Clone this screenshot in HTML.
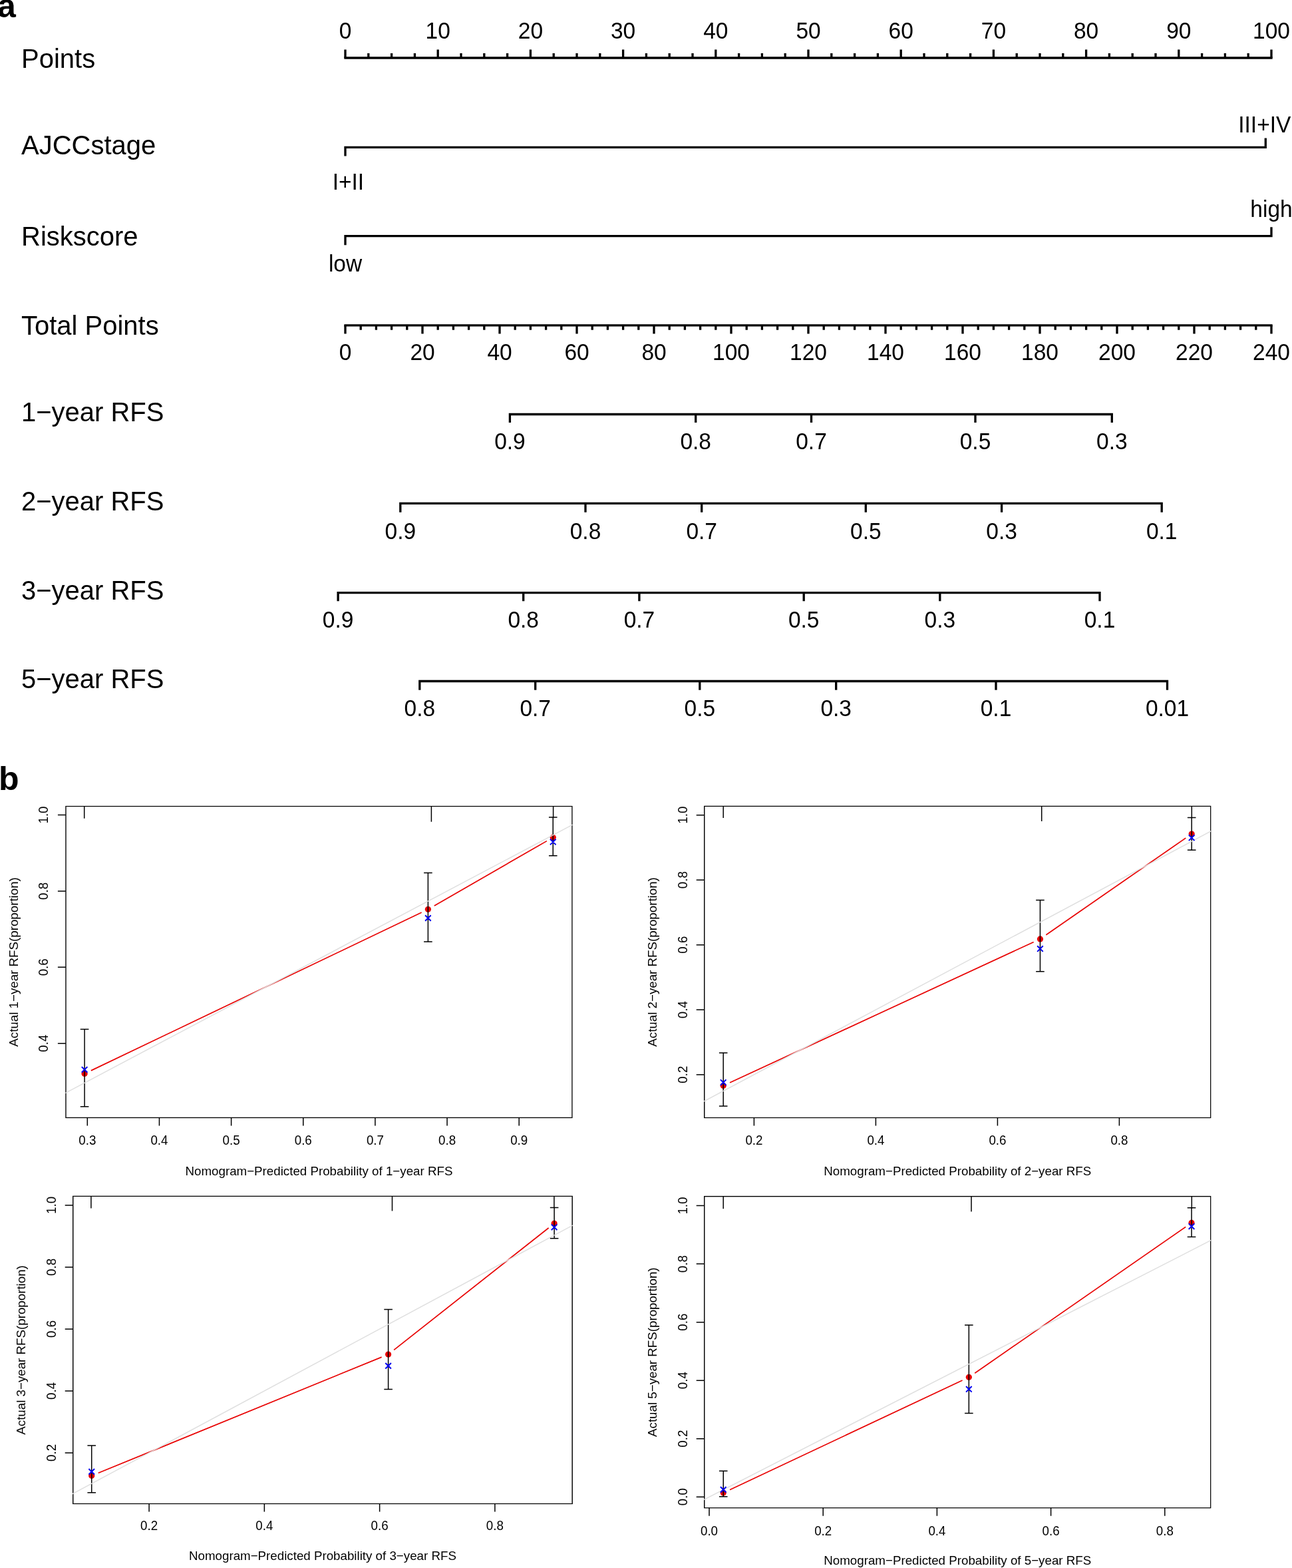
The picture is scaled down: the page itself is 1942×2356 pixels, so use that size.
<!DOCTYPE html>
<html><head><meta charset="utf-8"><title>Nomogram and calibration curves</title>
<style>
html,body{margin:0;padding:0;background:#fff;}
body{width:1942px;height:2356px;overflow:hidden;}
svg{display:block;font-family:'Liberation Sans', Arial, Helvetica, sans-serif;fill:#000;}
</style></head><body>
<svg width="1942" height="2356" viewBox="0 0 1942 2356">
<rect width="1942" height="2356" fill="#fff"/>
<text font-size="40" text-anchor="start" transform="translate(32 102.3) scale(1 1.02)">Points</text>
<path d="M519 87.0H1911" stroke="#000" stroke-width="3.3" fill="none" stroke-linecap="square"/>
<path d="M519 87V74.6M553.8 87V80.1M588.6 87V80.1M623.4 87V80.1M658.2 87V74.6M693 87V80.1M727.8 87V80.1M762.6 87V80.1M797.4 87V74.6M832.2 87V80.1M867 87V80.1M901.8 87V80.1M936.6 87V74.6M971.4 87V80.1M1006.2 87V80.1M1041 87V80.1M1075.8 87V74.6M1110.6 87V80.1M1145.4 87V80.1M1180.2 87V80.1M1215 87V74.6M1249.8 87V80.1M1284.6 87V80.1M1319.4 87V80.1M1354.2 87V74.6M1389 87V80.1M1423.8 87V80.1M1458.6 87V80.1M1493.4 87V74.6M1528.2 87V80.1M1563 87V80.1M1597.8 87V80.1M1632.6 87V74.6M1667.4 87V80.1M1702.2 87V80.1M1737 87V80.1M1771.8 87V74.6M1806.6 87V80.1M1841.4 87V80.1M1876.2 87V80.1M1911 87V74.6" stroke="#000" stroke-width="3.3" fill="none"/>
<text font-size="33.5" text-anchor="middle" transform="translate(519 58.4) scale(1 1.04)">0</text>
<text font-size="33.5" text-anchor="middle" transform="translate(658.2 58.4) scale(1 1.04)">10</text>
<text font-size="33.5" text-anchor="middle" transform="translate(797.4 58.4) scale(1 1.04)">20</text>
<text font-size="33.5" text-anchor="middle" transform="translate(936.6 58.4) scale(1 1.04)">30</text>
<text font-size="33.5" text-anchor="middle" transform="translate(1075.8 58.4) scale(1 1.04)">40</text>
<text font-size="33.5" text-anchor="middle" transform="translate(1215 58.4) scale(1 1.04)">50</text>
<text font-size="33.5" text-anchor="middle" transform="translate(1354.2 58.4) scale(1 1.04)">60</text>
<text font-size="33.5" text-anchor="middle" transform="translate(1493.4 58.4) scale(1 1.04)">70</text>
<text font-size="33.5" text-anchor="middle" transform="translate(1632.6 58.4) scale(1 1.04)">80</text>
<text font-size="33.5" text-anchor="middle" transform="translate(1771.8 58.4) scale(1 1.04)">90</text>
<text font-size="33.5" text-anchor="middle" transform="translate(1911 58.4) scale(1 1.04)">100</text>
<text font-size="40" text-anchor="start" transform="translate(32 231.8) scale(1 1.02)">AJCCstage</text>
<path d="M519 234.5V221.4H1902.3V207.5" stroke="#000" stroke-width="3.3" fill="none" stroke-linejoin="miter"/>
<text font-size="33.5" text-anchor="middle" transform="translate(523.4 284.8) scale(1 1.02)">I+II</text>
<text font-size="33.5" text-anchor="middle" transform="translate(1900.8 199.3) scale(1 1.02)">III+IV</text>
<text font-size="40" text-anchor="start" transform="translate(32 369) scale(1 1.02)">Riskscore</text>
<path d="M519 368.2V354.7H1911V341.2" stroke="#000" stroke-width="3.3" fill="none"/>
<text font-size="33.5" text-anchor="middle" transform="translate(519 408) scale(1 1.02)">low</text>
<text font-size="33.5" text-anchor="middle" transform="translate(1911 325.6) scale(1 1.02)">high</text>
<text font-size="40" text-anchor="start" transform="translate(32 503.3) scale(1 1.02)">Total Points</text>
<path d="M519 488.8H1911" stroke="#000" stroke-width="3.3" fill="none" stroke-linecap="square"/>
<path d="M519 488.8V501.6M542.2 488.8V495.8M565.4 488.8V495.8M588.6 488.8V495.8M611.8 488.8V495.8M635 488.8V501.6M658.2 488.8V495.8M681.4 488.8V495.8M704.6 488.8V495.8M727.8 488.8V495.8M751 488.8V501.6M774.2 488.8V495.8M797.4 488.8V495.8M820.6 488.8V495.8M843.8 488.8V495.8M867 488.8V501.6M890.2 488.8V495.8M913.4 488.8V495.8M936.6 488.8V495.8M959.8 488.8V495.8M983 488.8V501.6M1006.2 488.8V495.8M1029.4 488.8V495.8M1052.6 488.8V495.8M1075.8 488.8V495.8M1099 488.8V501.6M1122.2 488.8V495.8M1145.4 488.8V495.8M1168.6 488.8V495.8M1191.8 488.8V495.8M1215 488.8V501.6M1238.2 488.8V495.8M1261.4 488.8V495.8M1284.6 488.8V495.8M1307.8 488.8V495.8M1331 488.8V501.6M1354.2 488.8V495.8M1377.4 488.8V495.8M1400.6 488.8V495.8M1423.8 488.8V495.8M1447 488.8V501.6M1470.2 488.8V495.8M1493.4 488.8V495.8M1516.6 488.8V495.8M1539.8 488.8V495.8M1563 488.8V501.6M1586.2 488.8V495.8M1609.4 488.8V495.8M1632.6 488.8V495.8M1655.8 488.8V495.8M1679 488.8V501.6M1702.2 488.8V495.8M1725.4 488.8V495.8M1748.6 488.8V495.8M1771.8 488.8V495.8M1795 488.8V501.6M1818.2 488.8V495.8M1841.4 488.8V495.8M1864.6 488.8V495.8M1887.8 488.8V495.8M1911 488.8V501.6" stroke="#000" stroke-width="3.3" fill="none"/>
<text font-size="33.5" text-anchor="middle" transform="translate(519 541) scale(1 1.04)">0</text>
<text font-size="33.5" text-anchor="middle" transform="translate(635 541) scale(1 1.04)">20</text>
<text font-size="33.5" text-anchor="middle" transform="translate(751 541) scale(1 1.04)">40</text>
<text font-size="33.5" text-anchor="middle" transform="translate(867 541) scale(1 1.04)">60</text>
<text font-size="33.5" text-anchor="middle" transform="translate(983 541) scale(1 1.04)">80</text>
<text font-size="33.5" text-anchor="middle" transform="translate(1099 541) scale(1 1.04)">100</text>
<text font-size="33.5" text-anchor="middle" transform="translate(1215 541) scale(1 1.04)">120</text>
<text font-size="33.5" text-anchor="middle" transform="translate(1331 541) scale(1 1.04)">140</text>
<text font-size="33.5" text-anchor="middle" transform="translate(1447 541) scale(1 1.04)">160</text>
<text font-size="33.5" text-anchor="middle" transform="translate(1563 541) scale(1 1.04)">180</text>
<text font-size="33.5" text-anchor="middle" transform="translate(1679 541) scale(1 1.04)">200</text>
<text font-size="33.5" text-anchor="middle" transform="translate(1795 541) scale(1 1.04)">220</text>
<text font-size="33.5" text-anchor="middle" transform="translate(1911 541) scale(1 1.04)">240</text>
<text font-size="40" text-anchor="start" transform="translate(32 632.9) scale(1 1.02)">1−year RFS</text>
<path d="M766.4 635V622.5H1671.3V635M1045.7 622.5V635M1219.5 622.5V635M1466 622.5V635" stroke="#000" stroke-width="3.3" fill="none"/>
<text font-size="33.5" text-anchor="middle" transform="translate(766.4 674.7) scale(1 1.04)">0.9</text>
<text font-size="33.5" text-anchor="middle" transform="translate(1045.7 674.7) scale(1 1.04)">0.8</text>
<text font-size="33.5" text-anchor="middle" transform="translate(1219.5 674.7) scale(1 1.04)">0.7</text>
<text font-size="33.5" text-anchor="middle" transform="translate(1466 674.7) scale(1 1.04)">0.5</text>
<text font-size="33.5" text-anchor="middle" transform="translate(1671.3 674.7) scale(1 1.04)">0.3</text>
<text font-size="40" text-anchor="start" transform="translate(32 766.7) scale(1 1.02)">2−year RFS</text>
<path d="M601.8 769.8V756.3H1746.2V769.8M880 756.3V769.8M1054.7 756.3V769.8M1301.3 756.3V769.8M1505.6 756.3V769.8" stroke="#000" stroke-width="3.3" fill="none"/>
<text font-size="33.5" text-anchor="middle" transform="translate(601.8 809.5) scale(1 1.04)">0.9</text>
<text font-size="33.5" text-anchor="middle" transform="translate(880 809.5) scale(1 1.04)">0.8</text>
<text font-size="33.5" text-anchor="middle" transform="translate(1054.7 809.5) scale(1 1.04)">0.7</text>
<text font-size="33.5" text-anchor="middle" transform="translate(1301.3 809.5) scale(1 1.04)">0.5</text>
<text font-size="33.5" text-anchor="middle" transform="translate(1505.6 809.5) scale(1 1.04)">0.3</text>
<text font-size="33.5" text-anchor="middle" transform="translate(1746.2 809.5) scale(1 1.04)">0.1</text>
<text font-size="40" text-anchor="start" transform="translate(32 901) scale(1 1.02)">3−year RFS</text>
<path d="M508.1 903.2V890.7H1653V903.2M786.7 890.7V903.2M960.9 890.7V903.2M1208.2 890.7V903.2M1412.8 890.7V903.2" stroke="#000" stroke-width="3.3" fill="none"/>
<text font-size="33.5" text-anchor="middle" transform="translate(508.1 943) scale(1 1.04)">0.9</text>
<text font-size="33.5" text-anchor="middle" transform="translate(786.7 943) scale(1 1.04)">0.8</text>
<text font-size="33.5" text-anchor="middle" transform="translate(960.9 943) scale(1 1.04)">0.7</text>
<text font-size="33.5" text-anchor="middle" transform="translate(1208.2 943) scale(1 1.04)">0.5</text>
<text font-size="33.5" text-anchor="middle" transform="translate(1412.8 943) scale(1 1.04)">0.3</text>
<text font-size="33.5" text-anchor="middle" transform="translate(1653 943) scale(1 1.04)">0.1</text>
<text font-size="40" text-anchor="start" transform="translate(32 1034) scale(1 1.02)">5−year RFS</text>
<path d="M630.8 1036.7V1023.5H1754.5V1036.7M804.7 1023.5V1036.7M1051.8 1023.5V1036.7M1256.7 1023.5V1036.7M1497 1023.5V1036.7" stroke="#000" stroke-width="3.3" fill="none"/>
<text font-size="33.5" text-anchor="middle" transform="translate(630.8 1075.7) scale(1 1.04)">0.8</text>
<text font-size="33.5" text-anchor="middle" transform="translate(804.7 1075.7) scale(1 1.04)">0.7</text>
<text font-size="33.5" text-anchor="middle" transform="translate(1051.8 1075.7) scale(1 1.04)">0.5</text>
<text font-size="33.5" text-anchor="middle" transform="translate(1256.7 1075.7) scale(1 1.04)">0.3</text>
<text font-size="33.5" text-anchor="middle" transform="translate(1497 1075.7) scale(1 1.04)">0.1</text>
<text font-size="33.5" text-anchor="middle" transform="translate(1754.5 1075.7) scale(1 1.04)">0.01</text>
<text x="-4" y="26.3" font-size="50" font-weight="bold">a</text>
<text x="-2" y="1187" font-size="50" font-weight="bold">b</text>
<clipPath id="c1"><rect x="98.15" y="1210.65" width="762.6" height="469.6"/></clipPath>
<g clip-path="url(#c1)">
<path d="M136.83 1608.63L633.65 1371.02M652.75 1360.97L821.89 1263.63" stroke="#e80000" stroke-width="1.7" fill="none"/>
<circle cx="127.08" cy="1613.29" r="4.6" fill="#e80000"/>
<circle cx="643.39" cy="1366.36" r="4.6" fill="#e80000"/>
<circle cx="831.25" cy="1258.25" r="4.6" fill="#e80000"/>
<path d="M127.08 1662.65V1546.54M120.78 1662.65H133.38M120.78 1546.54H133.38M643.39 1414.98V1311.44M637.09 1414.98H649.69M637.09 1311.44H649.69M831.25 1285.7V1227.93M824.95 1285.7H837.55M824.95 1227.93H837.55M126.7 1211.4V1229.8M648.4 1211.4V1234.7M831.6 1211.4V1229" stroke="#000" stroke-width="1.5" fill="none"/>
<rect x="98.9" y="1211.4" width="761.1" height="468.1" fill="none" stroke="#000" stroke-width="1.5"/>
<line x1="98.15" y1="1642.43" x2="860.75" y2="1239.1" stroke="#dedede" stroke-width="1.45"/>
<path d="M122.78 1602.87L131.38 1611.47M122.78 1611.47L131.38 1602.87M639.09 1375.21L647.69 1383.81M639.09 1383.81L647.69 1375.21M826.95 1260.81L835.55 1269.41M826.95 1269.41L835.55 1260.81" stroke="#0000f0" stroke-width="2" fill="none"/>
</g>
<path d="M131.3 1679.5V1691.5M239.45 1679.5V1691.5M347.6 1679.5V1691.5M455.75 1679.5V1691.5M563.9 1679.5V1691.5M672.05 1679.5V1691.5M780.2 1679.5V1691.5M98.9 1567.7H86.9M98.9 1453.3H86.9M98.9 1338.9H86.9M98.9 1224.5H86.9" stroke="#000" stroke-width="1.5" fill="none"/>
<text font-size="18.75" text-anchor="middle" transform="translate(131.3 1720.2) scale(1 1.04)">0.3</text>
<text font-size="18.75" text-anchor="middle" transform="translate(239.45 1720.2) scale(1 1.04)">0.4</text>
<text font-size="18.75" text-anchor="middle" transform="translate(347.6 1720.2) scale(1 1.04)">0.5</text>
<text font-size="18.75" text-anchor="middle" transform="translate(455.75 1720.2) scale(1 1.04)">0.6</text>
<text font-size="18.75" text-anchor="middle" transform="translate(563.9 1720.2) scale(1 1.04)">0.7</text>
<text font-size="18.75" text-anchor="middle" transform="translate(672.05 1720.2) scale(1 1.04)">0.8</text>
<text font-size="18.75" text-anchor="middle" transform="translate(780.2 1720.2) scale(1 1.04)">0.9</text>
<text x="0" y="0" font-size="18.75" text-anchor="middle" transform="translate(72.2 1567.7) rotate(-90) scale(1 1.04)">0.4</text>
<text x="0" y="0" font-size="18.75" text-anchor="middle" transform="translate(72.2 1453.3) rotate(-90) scale(1 1.04)">0.6</text>
<text x="0" y="0" font-size="18.75" text-anchor="middle" transform="translate(72.2 1338.9) rotate(-90) scale(1 1.04)">0.8</text>
<text x="0" y="0" font-size="18.75" text-anchor="middle" transform="translate(72.2 1224.5) rotate(-90) scale(1 1.04)">1.0</text>
<text font-size="18.75" text-anchor="middle" transform="translate(479.45 1766) scale(1 1.02)">Nomogram−Predicted Probability of 1−year RFS</text>
<text x="0" y="0" font-size="18.75" text-anchor="middle" transform="translate(27.4 1445.45) rotate(-90) scale(1 1.02)">Actual 1−year RFS(proportion)</text>
<clipPath id="c2"><rect x="1057.95" y="1210.55" width="762.6" height="469.8"/></clipPath>
<g clip-path="url(#c2)">
<path d="M1096.99 1626.74L1553.65 1415.46M1572.32 1404.77L1782.32 1259.13" stroke="#e80000" stroke-width="1.7" fill="none"/>
<circle cx="1087.19" cy="1631.28" r="4.6" fill="#e80000"/>
<circle cx="1563.45" cy="1410.92" r="4.6" fill="#e80000"/>
<circle cx="1791.19" cy="1252.98" r="4.6" fill="#e80000"/>
<path d="M1087.19 1661.99V1582.04M1080.89 1661.99H1093.49M1080.89 1582.04H1093.49M1563.45 1459.67V1352.42M1557.15 1459.67H1569.75M1557.15 1352.42H1569.75M1791.19 1277.35V1228.6M1784.89 1277.35H1797.49M1784.89 1228.6H1797.49M1087.2 1211.3V1228.9M1565.7 1211.3V1234M1791.3 1211.3V1229" stroke="#000" stroke-width="1.5" fill="none"/>
<rect x="1058.7" y="1211.3" width="761.1" height="468.3" fill="none" stroke="#000" stroke-width="1.5"/>
<line x1="1057.95" y1="1654.9" x2="1820.55" y2="1248.6" stroke="#dedede" stroke-width="1.45"/>
<path d="M1082.89 1622.1L1091.49 1630.7M1082.89 1630.7L1091.49 1622.1M1559.15 1421.25L1567.75 1429.85M1559.15 1429.85L1567.75 1421.25M1786.89 1254.53L1795.49 1263.12M1786.89 1263.12L1795.49 1254.53" stroke="#0000f0" stroke-width="2" fill="none"/>
</g>
<path d="M1133.4 1679.6V1691.6M1316.4 1679.6V1691.6M1499.4 1679.6V1691.6M1682.4 1679.6V1691.6M1058.7 1614.7H1046.7M1058.7 1517.2H1046.7M1058.7 1419.7H1046.7M1058.7 1322.2H1046.7M1058.7 1224.7H1046.7" stroke="#000" stroke-width="1.5" fill="none"/>
<text font-size="18.75" text-anchor="middle" transform="translate(1133.4 1720.4) scale(1 1.04)">0.2</text>
<text font-size="18.75" text-anchor="middle" transform="translate(1316.4 1720.4) scale(1 1.04)">0.4</text>
<text font-size="18.75" text-anchor="middle" transform="translate(1499.4 1720.4) scale(1 1.04)">0.6</text>
<text font-size="18.75" text-anchor="middle" transform="translate(1682.4 1720.4) scale(1 1.04)">0.8</text>
<text x="0" y="0" font-size="18.75" text-anchor="middle" transform="translate(1033 1614.7) rotate(-90) scale(1 1.04)">0.2</text>
<text x="0" y="0" font-size="18.75" text-anchor="middle" transform="translate(1033 1517.2) rotate(-90) scale(1 1.04)">0.4</text>
<text x="0" y="0" font-size="18.75" text-anchor="middle" transform="translate(1033 1419.7) rotate(-90) scale(1 1.04)">0.6</text>
<text x="0" y="0" font-size="18.75" text-anchor="middle" transform="translate(1033 1322.2) rotate(-90) scale(1 1.04)">0.8</text>
<text x="0" y="0" font-size="18.75" text-anchor="middle" transform="translate(1033 1224.7) rotate(-90) scale(1 1.04)">1.0</text>
<text font-size="18.75" text-anchor="middle" transform="translate(1439.25 1765.5) scale(1 1.02)">Nomogram−Predicted Probability of 2−year RFS</text>
<text x="0" y="0" font-size="18.75" text-anchor="middle" transform="translate(987.4 1445.45) rotate(-90) scale(1 1.02)">Actual 2−year RFS(proportion)</text>
<clipPath id="c3"><rect x="108.95" y="1796.55" width="752" height="463.8"/></clipPath>
<g clip-path="url(#c3)">
<path d="M147.73 2213.22L573.62 2039.12M592.1 2028.34L824.63 1845.02" stroke="#e80000" stroke-width="1.7" fill="none"/>
<circle cx="137.73" cy="2217.31" r="4.6" fill="#e80000"/>
<circle cx="583.61" cy="2035.03" r="4.6" fill="#e80000"/>
<circle cx="833.11" cy="1838.34" r="4.6" fill="#e80000"/>
<path d="M137.73 2242.65V2171.97M131.43 2242.65H144.03M131.43 2171.97H144.03M583.61 2087.58V1967.61M577.31 2087.58H589.91M577.31 1967.61H589.91M833.11 1860.66V1814.62M826.81 1860.66H839.41M826.81 1814.62H839.41M136.9 1797.3V1815.5M589.5 1797.3V1819.5M832.9 1797.3V1815" stroke="#000" stroke-width="1.5" fill="none"/>
<rect x="109.7" y="1797.3" width="750.5" height="462.3" fill="none" stroke="#000" stroke-width="1.5"/>
<line x1="108.95" y1="2244.71" x2="860.95" y2="1841.06" stroke="#dedede" stroke-width="1.45"/>
<path d="M133.43 2206.97L142.03 2215.57M133.43 2215.57L142.03 2206.97M579.31 2047.94L587.91 2056.54M579.31 2056.54L587.91 2047.94M828.81 1839.62L837.41 1848.21M828.81 1848.21L837.41 1839.62" stroke="#0000f0" stroke-width="2" fill="none"/>
</g>
<path d="M224.1 2259.6V2271.6M397.36 2259.6V2271.6M570.62 2259.6V2271.6M743.88 2259.6V2271.6M109.7 2182.9H97.7M109.7 2089.9H97.7M109.7 1996.9H97.7M109.7 1903.9H97.7M109.7 1810.9H97.7" stroke="#000" stroke-width="1.5" fill="none"/>
<text font-size="18.75" text-anchor="middle" transform="translate(224.1 2299.4) scale(1 1.04)">0.2</text>
<text font-size="18.75" text-anchor="middle" transform="translate(397.36 2299.4) scale(1 1.04)">0.4</text>
<text font-size="18.75" text-anchor="middle" transform="translate(570.62 2299.4) scale(1 1.04)">0.6</text>
<text font-size="18.75" text-anchor="middle" transform="translate(743.88 2299.4) scale(1 1.04)">0.8</text>
<text x="0" y="0" font-size="18.75" text-anchor="middle" transform="translate(84.3 2182.9) rotate(-90) scale(1 1.04)">0.2</text>
<text x="0" y="0" font-size="18.75" text-anchor="middle" transform="translate(84.3 2089.9) rotate(-90) scale(1 1.04)">0.4</text>
<text x="0" y="0" font-size="18.75" text-anchor="middle" transform="translate(84.3 1996.9) rotate(-90) scale(1 1.04)">0.6</text>
<text x="0" y="0" font-size="18.75" text-anchor="middle" transform="translate(84.3 1903.9) rotate(-90) scale(1 1.04)">0.8</text>
<text x="0" y="0" font-size="18.75" text-anchor="middle" transform="translate(84.3 1810.9) rotate(-90) scale(1 1.04)">1.0</text>
<text font-size="18.75" text-anchor="middle" transform="translate(484.95 2343.7) scale(1 1.02)">Nomogram−Predicted Probability of 3−year RFS</text>
<text x="0" y="0" font-size="18.75" text-anchor="middle" transform="translate(38 2028.45) rotate(-90) scale(1 1.02)">Actual 3−year RFS(proportion)</text>
<clipPath id="c4"><rect x="1057.95" y="1796.85" width="762.6" height="469.7"/></clipPath>
<g clip-path="url(#c4)">
<path d="M1097 2238.47L1446.56 2073.95M1465.21 2063.2L1782.15 1843.57" stroke="#e80000" stroke-width="1.7" fill="none"/>
<circle cx="1087.23" cy="2243.07" r="4.6" fill="#e80000"/>
<circle cx="1456.34" cy="2069.35" r="4.6" fill="#e80000"/>
<circle cx="1791.03" cy="1837.42" r="4.6" fill="#e80000"/>
<path d="M1087.23 2248.76V2210.25M1080.93 2248.76H1093.53M1080.93 2210.25H1093.53M1456.34 2123.61V1991.02M1450.04 2123.61H1462.64M1450.04 1991.02H1462.64M1791.03 1858.42V1814.66M1784.73 1858.42H1797.33M1784.73 1814.66H1797.33M1087.2 1797.6V1816.3M1460 1797.6V1820.4M1791.3 1797.6V1816" stroke="#000" stroke-width="1.5" fill="none"/>
<rect x="1058.7" y="1797.6" width="761.1" height="468.2" fill="none" stroke="#000" stroke-width="1.5"/>
<line x1="1057.95" y1="2253.32" x2="1820.55" y2="1863.46" stroke="#dedede" stroke-width="1.45"/>
<path d="M1082.93 2233.96L1091.53 2242.56M1082.93 2242.56L1091.53 2233.96M1452.04 2082.99L1460.64 2091.59M1452.04 2091.59L1460.64 2082.99M1786.73 1838.37L1795.33 1846.97M1786.73 1846.97L1795.33 1838.37" stroke="#0000f0" stroke-width="2" fill="none"/>
</g>
<path d="M1066 2265.8V2277.8M1237.2 2265.8V2277.8M1408.4 2265.8V2277.8M1579.6 2265.8V2277.8M1750.8 2265.8V2277.8M1058.7 2249.2H1046.7M1058.7 2161.68H1046.7M1058.7 2074.16H1046.7M1058.7 1986.64H1046.7M1058.7 1899.12H1046.7M1058.7 1811.6H1046.7" stroke="#000" stroke-width="1.5" fill="none"/>
<text font-size="18.75" text-anchor="middle" transform="translate(1066 2307.2) scale(1 1.04)">0.0</text>
<text font-size="18.75" text-anchor="middle" transform="translate(1237.2 2307.2) scale(1 1.04)">0.2</text>
<text font-size="18.75" text-anchor="middle" transform="translate(1408.4 2307.2) scale(1 1.04)">0.4</text>
<text font-size="18.75" text-anchor="middle" transform="translate(1579.6 2307.2) scale(1 1.04)">0.6</text>
<text font-size="18.75" text-anchor="middle" transform="translate(1750.8 2307.2) scale(1 1.04)">0.8</text>
<text x="0" y="0" font-size="18.75" text-anchor="middle" transform="translate(1033 2249.2) rotate(-90) scale(1 1.04)">0.0</text>
<text x="0" y="0" font-size="18.75" text-anchor="middle" transform="translate(1033 2161.68) rotate(-90) scale(1 1.04)">0.2</text>
<text x="0" y="0" font-size="18.75" text-anchor="middle" transform="translate(1033 2074.16) rotate(-90) scale(1 1.04)">0.4</text>
<text x="0" y="0" font-size="18.75" text-anchor="middle" transform="translate(1033 1986.64) rotate(-90) scale(1 1.04)">0.6</text>
<text x="0" y="0" font-size="18.75" text-anchor="middle" transform="translate(1033 1899.12) rotate(-90) scale(1 1.04)">0.8</text>
<text x="0" y="0" font-size="18.75" text-anchor="middle" transform="translate(1033 1811.6) rotate(-90) scale(1 1.04)">1.0</text>
<text font-size="18.75" text-anchor="middle" transform="translate(1439.25 2351.4) scale(1 1.02)">Nomogram−Predicted Probability of 5−year RFS</text>
<text x="0" y="0" font-size="18.75" text-anchor="middle" transform="translate(987.4 2031.7) rotate(-90) scale(1 1.02)">Actual 5−year RFS(proportion)</text>
</svg>
</body></html>
